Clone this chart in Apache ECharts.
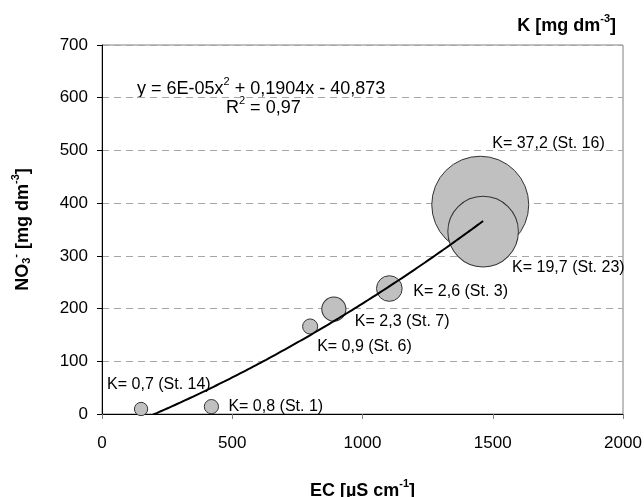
<!DOCTYPE html>
<html>
<head>
<meta charset="utf-8">
<script src="https://cdn.jsdelivr.net/npm/echarts@6/dist/echarts.min.js"></script>
<style>
  html, body { margin: 0; padding: 0; background: #fff; }
  #chart { width: 644px; height: 497px; }
</style>
</head>
<body>
<div id="chart"></div>
<script>
const stations = ['St. 14', 'St. 1', 'St. 6', 'St. 7', 'St. 3', 'St. 16', 'St. 23'];
const ecValues = [150, 420, 799, 890, 1103, 1452, 1463];
const no3Values = [9.5, 14, 166, 199, 238, 397, 346];
const kValues = [0.7, 0.8, 0.9, 2.3, 2.6, 37.2, 19.7];
// trendline y = a*x^2 + b*x + c as printed on the chart
const trendCoef = [6e-5, 0.1904, -40.873];
const xTicks = [0, 500, 1000, 1500, 2000];
const yTicks = [0, 100, 200, 300, 400, 500, 600, 700];

// label placement next to each bubble (px from bubble centre)
const labelOffsets = [[-34, -24], [17, 0], [7, 20], [21, 12], [24, 3], [12, -61], [29, 36]];

const FONT = 'Liberation Sans, Arial, sans-serif';

const bubbles = stations.map((st, i) => ({
  value: [ecValues[i], no3Values[i], kValues[i]],
  label: {
    offset: labelOffsets[i],
    formatter: 'K= ' + String(kValues[i]).replace('.', ',') + ' (' + st + ')'
  }
}));

const xMin = Math.min(...ecValues), xMax = Math.max(...ecValues);
const trend = [];
for (let x = xMin; x <= xMax; x += 20) {
  trend.push([x, trendCoef[0] * x * x + trendCoef[1] * x + trendCoef[2]]);
}
trend.push([xMax, trendCoef[0] * xMax * xMax + trendCoef[1] * xMax + trendCoef[2]]);

const chart = echarts.init(document.getElementById('chart'), null, { renderer: 'canvas' });

const supRich = {
  b: { fontFamily: FONT, fontSize: 18, fontWeight: 'bold', color: '#000', lineHeight: 22, verticalAlign: 'bottom' },
  bsup: { fontFamily: FONT, fontSize: 11, fontWeight: 'bold', color: '#000', lineHeight: 22, verticalAlign: 'top' },
  bsub: { fontFamily: FONT, fontSize: 11, fontWeight: 'bold', color: '#000', lineHeight: 15, verticalAlign: 'bottom' },
  n: { fontFamily: FONT, fontSize: 18, color: '#000', lineHeight: 22, verticalAlign: 'bottom' },
  nsup: { fontFamily: FONT, fontSize: 11, color: '#000', lineHeight: 22, verticalAlign: 'top' }
};

let option = {
  animation: false,
  grid: {
    left: 102,
    right: 21,
    top: 45,
    bottom: 83,
    outerBoundsMode: 'none',
    containLabel: false,
    show: true,
    borderColor: '#808080',
    borderWidth: 1
  },
  xAxis: {
    type: 'value',
    min: xTicks[0],
    max: xTicks[xTicks.length - 1],
    interval: 500,
    name: '{b|EC [µS cm}{bsup|-1}{b|]}',
    nameLocation: 'middle',
    nameGap: 64,
    nameTextStyle: { rich: supRich },
    axisLine: { lineStyle: { color: '#000', width: 1 } },
    axisTick: { show: true, length: 5, lineStyle: { color: '#808080' } },
    axisLabel: { color: '#000', fontFamily: FONT, fontSize: 17, margin: 21, formatter: v => String(v) },
    splitLine: { show: false }
  },
  yAxis: {
    type: 'value',
    min: yTicks[0],
    max: yTicks[yTicks.length - 1],
    interval: 100,
    name: '{b|NO}{bsub|3}{bsup|-}{b| [mg dm}{bsup|-3}{b|]}',
    nameLocation: 'middle',
    nameGap: 70,
    nameTextStyle: { rich: supRich },
    axisLine: { show: true, lineStyle: { color: '#000', width: 1 } },
    axisTick: { show: true, length: 5, lineStyle: { color: '#000' } },
    axisLabel: { color: '#000', fontFamily: FONT, fontSize: 17, margin: 14, formatter: v => String(v) },
    splitLine: { show: true, lineStyle: { color: '#a6a6a6', type: [7, 5], width: 1 } }
  },
  graphic: [
    {
      type: 'text',
      right: 28,
      top: 13,
      style: { text: '{b|K [mg dm}{bsup|-3}{b|]}', rich: supRich }
    },
    {
      type: 'text',
      left: 137,
      top: 76,
      style: { text: '{n|y = 6E-05x}{nsup|2}{n| + 0,1904x - 40,873}', rich: supRich }
    },
    {
      type: 'text',
      left: 226,
      top: 95,
      style: { text: '{n|R}{nsup|2}{n| = 0,97}', rich: supRich }
    }
  ],
  series: [
    {
      type: 'scatter',
      data: bubbles,
      symbol: 'circle',
      symbolSize: val => 15.9 * Math.sqrt(val[2]),
      itemStyle: { color: '#c0c0c0', borderColor: '#333', borderWidth: 1, opacity: 1 },
      label: {
        show: true,
        position: 'inside',
        align: 'left',
        verticalAlign: 'middle',
        color: '#000',
        fontFamily: FONT,
        fontSize: 16
      },
      emphasis: { disabled: true },
      z: 2
    },
    {
      type: 'line',
      data: trend,
      showSymbol: false,
      smooth: true,
      clip: true,
      lineStyle: { color: '#000', width: 2 },
      emphasis: { disabled: true },
      z: 3
    }
  ]
};

chart.setOption(option);
</script>
</body>
</html>
